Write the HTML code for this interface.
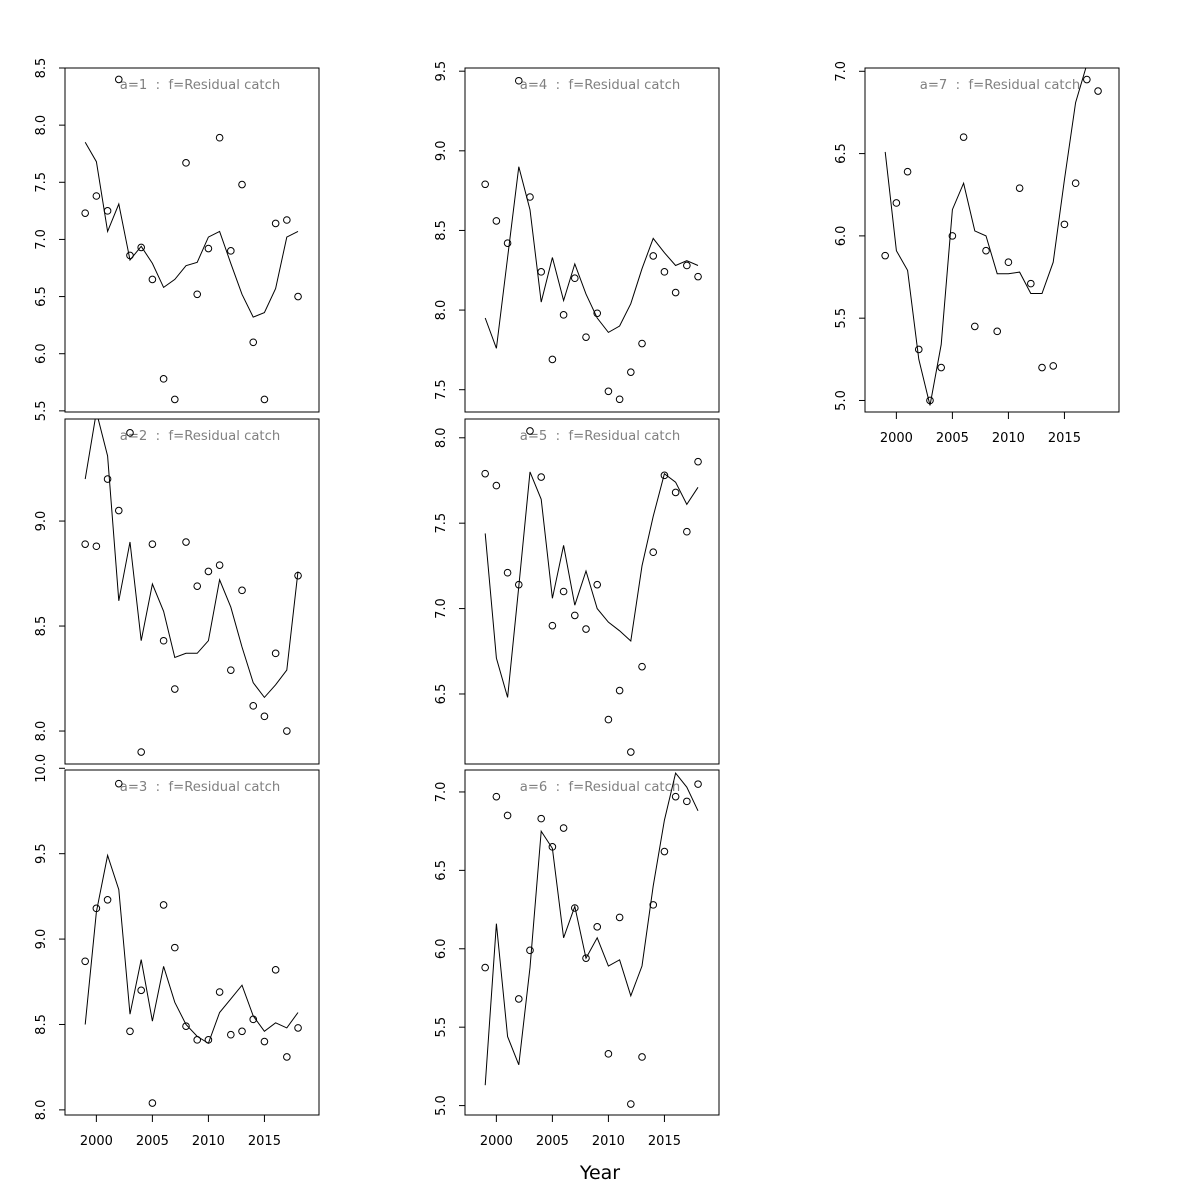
<!DOCTYPE html>
<html><head><meta charset="utf-8"><style>
html,body{margin:0;padding:0;background:#fff}
svg{display:block;font-family:"DejaVu Sans","Liberation Sans",sans-serif}
.pre{white-space:pre}
</style></head><body>
<svg id="chart" width="1200" height="1200" viewBox="0 0 1200 1200" xmlns="http://www.w3.org/2000/svg">
<rect width="1200" height="1200" fill="#fff"/>
<text x="600" y="1179" font-size="19" text-anchor="middle">Year</text>
</svg>
<script>
const years = [1999,2000,2001,2002,2003,2004,2005,2006,2007,2008,2009,2010,2011,2012,2013,2014,2015,2016,2017,2018];
const xTicks = [2000,2005,2010,2015];
const pts1 = [7.23,7.38,7.25,8.40,6.86,6.93,6.65,5.78,5.60,7.67,6.52,6.92,7.89,6.90,7.48,6.10,5.60,7.14,7.17,6.50];
const fit1 = [7.85,7.68,7.07,7.31,6.82,6.94,6.79,6.58,6.65,6.77,6.80,7.02,7.07,6.79,6.52,6.32,6.36,6.57,7.02,7.07];
const ticks1 = [5.5,6.0,6.5,7.0,7.5,8.0,8.5];
const pts2 = [8.89,8.88,9.20,9.05,9.42,7.90,8.89,8.43,8.20,8.90,8.69,8.76,8.79,8.29,8.67,8.12,8.07,8.37,8.00,8.74];
const fit2 = [9.20,9.52,9.31,8.62,8.90,8.43,8.70,8.57,8.35,8.37,8.37,8.43,8.72,8.59,8.40,8.23,8.16,8.22,8.29,8.76];
const ticks2 = [8.0,8.5,9.0];
const pts3 = [8.87,9.18,9.23,9.91,8.46,8.70,8.04,9.20,8.95,8.49,8.41,8.41,8.69,8.44,8.46,8.53,8.40,8.82,8.31,8.48];
const fit3 = [8.50,9.16,9.49,9.29,8.56,8.88,8.52,8.84,8.63,8.50,8.43,8.39,8.57,8.65,8.73,8.55,8.46,8.51,8.48,8.57];
const ticks3 = [8.0,8.5,9.0,9.5,10.0];
const pts4 = [8.79,8.56,8.42,9.44,8.71,8.24,7.69,7.97,8.20,7.83,7.98,7.49,7.44,7.61,7.79,8.34,8.24,8.11,8.28,8.21];
const fit4 = [7.95,7.76,8.33,8.90,8.63,8.05,8.33,8.06,8.29,8.10,7.95,7.86,7.90,8.04,8.26,8.45,8.36,8.28,8.31,8.28];
const ticks4 = [7.5,8.0,8.5,9.0,9.5];
const pts5 = [7.79,7.72,7.21,7.14,8.04,7.77,6.90,7.10,6.96,6.88,7.14,6.35,6.52,6.16,6.66,7.33,7.78,7.68,7.45,7.86];
const fit5 = [7.44,6.71,6.48,7.13,7.80,7.64,7.06,7.37,7.02,7.22,7.00,6.92,6.87,6.81,7.25,7.54,7.79,7.74,7.61,7.71];
const ticks5 = [6.5,7.0,7.5,8.0];
const pts6 = [5.88,6.97,6.85,5.68,5.99,6.83,6.65,6.77,6.26,5.94,6.14,5.33,6.20,5.01,5.31,6.28,6.62,6.97,6.94,7.05];
const fit6 = [5.13,6.16,5.44,5.26,5.88,6.75,6.64,6.07,6.27,5.94,6.07,5.89,5.93,5.70,5.89,6.40,6.82,7.12,7.03,6.88];
const ticks6 = [5.0,5.5,6.0,6.5,7.0];
const pts7 = [5.88,6.20,6.39,5.31,5.00,5.20,6.00,6.60,5.45,5.91,5.42,5.84,6.29,5.71,5.20,5.21,6.07,6.32,6.95,6.88];
const fit7 = [6.51,5.91,5.79,5.25,4.97,5.34,6.16,6.32,6.03,6.00,5.77,5.77,5.78,5.65,5.65,5.84,6.34,6.81,7.04,7.25];
const ticks7 = [5.0,5.5,6.0,6.5,7.0];

const NS = "http://www.w3.org/2000/svg";
const svg = document.getElementById('chart');
function mk(tag, attrs, parent){
  const e = document.createElementNS(NS, tag);
  for (const k in attrs) e.setAttribute(k, attrs[k]);
  (parent||svg).appendChild(e);
  return e;
}
const panels = [
  {id:1,x:65,y:68,h:344,ymin:5.49,ymax:8.5,pts:pts1,fit:fit1,ticks:ticks1,xaxis:false},
  {id:2,x:65,y:419,h:345,ymin:7.843,ymax:9.486,pts:pts2,fit:fit2,ticks:ticks2,xaxis:false},
  {id:3,x:65,y:770,h:345,ymin:7.97,ymax:9.99,pts:pts3,fit:fit3,ticks:ticks3,xaxis:true},
  {id:4,x:465,y:68,h:344,ymin:7.36,ymax:9.52,pts:pts4,fit:fit4,ticks:ticks4,xaxis:false},
  {id:5,x:465,y:419,h:345,ymin:6.09,ymax:8.11,pts:pts5,fit:fit5,ticks:ticks5,xaxis:false},
  {id:6,x:465,y:770,h:345,ymin:4.94,ymax:7.14,pts:pts6,fit:fit6,ticks:ticks6,xaxis:true},
  {id:7,x:865,y:68,h:344,ymin:4.93,ymax:7.02,pts:pts7,fit:fit7,ticks:ticks7,xaxis:true}
];
const W = 254, X0 = 1997.2, X1 = 2019.87;
panels.forEach(p => {
  const g = mk('g', {});
  
  
  const sx = v => p.x + (v - X0) / (X1 - X0) * W;
  const sy = v => p.y + p.h - (v - p.ymin) / (p.ymax - p.ymin) * p.h;
  const cp = mk('clipPath', {id:'clip' + p.id}, g);
  mk('rect', {x:p.x, y:p.y, width:W, height:p.h}, cp);
  const frame = mk('rect', {x:p.x, y:p.y, width:W, height:p.h, fill:'none', stroke:'#000', 'stroke-width':1}, g);
  
  
  const title = mk('text', {x:p.x + 135, y:p.y + 21, 'font-size':13.2, fill:'#808080', 'text-anchor':'middle', 'class':'pre'}, g);
  title.textContent = 'a=' + p.id + '  :  f=Residual catch';
  
  
  p.ticks.forEach(t => {
    const yy = sy(t);
    const tl = mk('line', {x1:p.x - 6, x2:p.x, y1:yy, y2:yy, stroke:'#000'}, g);
    
    
    const tx = mk('text', {x:p.x - 20, y:yy, 'font-size':13, 'text-anchor':'middle', transform:'rotate(-90 ' + (p.x - 20) + ' ' + yy + ')'}, g);
    tx.textContent = t.toFixed(1);
    
    
  });
  if (p.xaxis) {
    xTicks.forEach(t => {
      const xx = sx(t);
      const tl = mk('line', {x1:xx, x2:xx, y1:p.y + p.h, y2:p.y + p.h + 7, stroke:'#000'}, g);
      
      
      const tx = mk('text', {x:xx, y:p.y + p.h + 30, 'font-size':13, 'text-anchor':'middle'}, g);
      tx.textContent = t;
      
      
    });
  }
  const d = p.fit.map((v, i) => (i ? 'L' : 'M') + sx(years[i]).toFixed(1) + ',' + sy(v).toFixed(1)).join(' ');
  const line = mk('path', {d:d, fill:'none', stroke:'#000', 'stroke-width':1, 'clip-path':'url(#clip' + p.id + ')'}, g);
  
  
  p.pts.forEach((v, i) => {
    const c = mk('circle', {cx:sx(years[i]), cy:sy(v), r:3.3, fill:'none', stroke:'#000', 'stroke-width':1}, g);
    
    
  });
});
</script>
</body></html>
